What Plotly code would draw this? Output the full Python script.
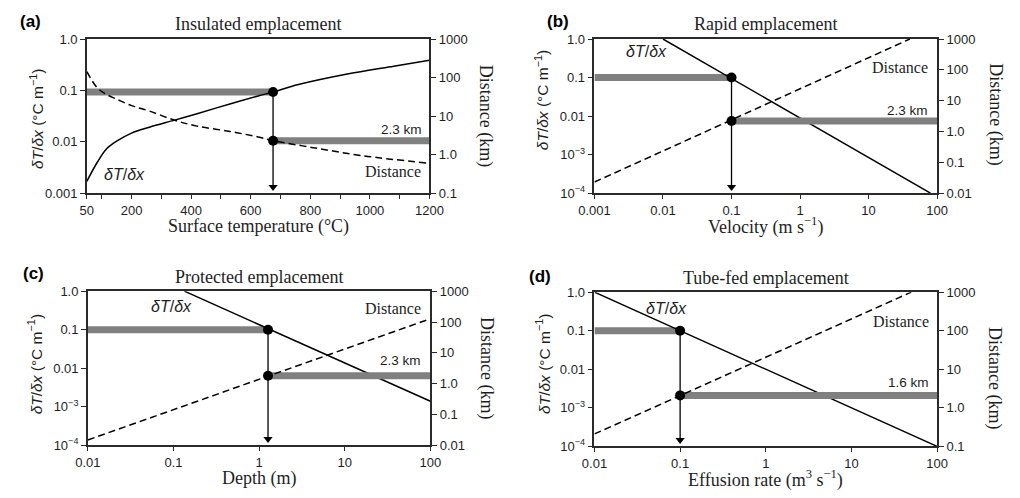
import plotly.graph_objects as go

W, H = 1020, 498

# ---------------- data ----------------
# (a) Insulated emplacement
a_temp = [50, 85, 115, 150, 200, 260, 345, 420, 530, 625, 675, 760, 920, 1080, 1200]
a_grad = [0.0017, 0.0040, 0.0072, 0.0103, 0.0148, 0.0192, 0.0264, 0.0352, 0.0545, 0.078,
          0.093, 0.13, 0.206, 0.296, 0.385]
a_dist_temp = [50, 85, 115, 150, 200, 260, 345, 420, 530, 625, 675, 810, 975, 1190]
a_dist = [142, 54, 36.8, 27.5, 18.7, 13.5, 7.8, 5.5, 4.0, 2.88, 2.32, 1.52, 0.94, 0.61]
a_sel = [675, 0.093, 2.3]          # x, gradient, distance

# (b) Rapid emplacement
b_vel = [0.01, 80]
b_grad = [1.0, 1e-4]
b_dist_vel = [0.001, 40]
b_dist = [0.023, 1000]
b_sel = [0.1, 0.1, 2.2]

# (c) Protected emplacement
c_depth = [0.134, 100]
c_grad = [1.0, 0.0014]
c_dist_depth = [0.01, 100]
c_dist = [0.015, 128]
c_sel = [1.27, 0.1, 1.8]

# (d) Tube-fed emplacement
d_eff = [0.01, 100]
d_grad = [1.0, 1e-4]
d_dist_eff = [0.01, 50]
d_dist = [0.21, 1000]
d_sel = [0.1, 0.1, 2.1]

titles = ["Insulated emplacement", "Rapid emplacement", "Protected emplacement", "Tube-fed emplacement"]
letters = ["(a)", "(b)", "(c)", "(d)"]
xtitles = ["Surface temperature (°C)", "Velocity (m s<sup>−1</sup>)", "Depth (m)",
           "Effusion rate (m<sup>3</sup> s<sup>−1</sup>)"]
dist_labels = ["2.3 km", "2.3 km", "2.3 km", "1.6 km"]

lt_vals_a = [1.0, 0.1, 0.01, 0.001]
lt_text_a = ["1.0", "0.1", "0.01", "0.001"]
lt_vals = [1.0, 0.1, 0.01, 1e-3, 1e-4]
lt_text = ["1.0", "0.1", "0.01", "10<sup>−3</sup>", "10<sup>−4</sup>"]
rt_vals5 = [1000, 100, 10, 1, 0.1]
rt_text5 = ["1000", "100", "10", "1.0", "0.1"]
rt_vals6 = [1000, 100, 10, 1, 0.1, 0.01]
rt_text6 = ["1000", "100", "10", "1.0", "0.1", "0.01"]
xa_vals = [50, 100, 200, 300, 400, 500, 600, 700, 800, 900, 1000, 1100, 1200]
xa_text = ["50", "", "200", "", "400", "", "600", "", "800", "", "1000", "", "1200"]
xb_vals = [0.001, 0.01, 0.1, 1, 10, 100]
xb_text = ["0.001", "0.01", "0.1", "1", "10", "100"]
xc_vals = [0.01, 0.1, 1, 10, 100]
xc_text = ["0.01", "0.1", "1", "10", "100"]

# ---------------- layout geometry (pixels) ----------------
boxes = [(73, 426, 33, 192), (596, 949, 33, 192), (74, 427, 293, 452), (596, 949, 294, 453)]
xtype = ["linear", "log", "log", "log"]
xrange_ = [[50, 1200], [-3, 2], [-2, 2], [-2, 2]]
lrange = [[-3, 0], [-4, 0], [-4, 0], [-4, 0]]
rrange = [[-1, 3], [-2, 3], [-2, 3], [-1, 3]]

panels = [
    (a_temp, a_grad, a_dist_temp, a_dist, a_sel),
    (b_vel, b_grad, b_dist_vel, b_dist, b_sel),
    (c_depth, c_grad, c_dist_depth, c_dist, c_sel),
    (d_eff, d_grad, d_dist_eff, d_dist, d_sel),
]
xticks = [(xa_vals, xa_text), (xb_vals, xb_text), (xc_vals, xc_text), (xc_vals, xc_text)]
lticks = [(lt_vals_a, lt_text_a), (lt_vals, lt_text), (lt_vals, lt_text), (lt_vals, lt_text)]
rticks = [(rt_vals5, rt_text5), (rt_vals6, rt_text6), (rt_vals6, rt_text6), (rt_vals5, rt_text5)]

SANS = "Liberation Sans"
SERIF = "Liberation Serif"
AX = "#2a2a2a"
BAR = "#808080"
TXT = "#1e1e1e"


def P(x, y):
    return x / W, 1 - y / H


fig = go.Figure()
layout = dict(width=W, height=H, margin=dict(l=0, r=0, t=0, b=0),
              paper_bgcolor="white", plot_bgcolor="white", showlegend=False)
annotations = []


def axname(kind, n):
    return kind if n == 1 else f"{kind}{n}"


for i, (xs, gs, dxs, ds, sel) in enumerate(panels):
    xl, xr, yt, yb = boxes[i]
    xn = i + 1
    yl = 2 * i + 1
    yr = 2 * i + 2
    xid, ylid, yrid = axname("x", xn), axname("y", yl), axname("y", yr)

    tick_font = dict(family=SANS, size=13, color=TXT)
    layout[axname("xaxis", xn)] = dict(
        type=xtype[i], range=xrange_[i], domain=[xl / W, xr / W], anchor=ylid,
        showline=True, linecolor=AX, linewidth=1.5, mirror=True, showgrid=False,
        zeroline=False, ticks="outside", ticklen=4, tickwidth=1.3, tickcolor=AX,
        tickvals=xticks[i][0], ticktext=xticks[i][1], tickfont=tick_font)
    # companion axis giving the inner half of the crossing x ticks
    layout[axname("xaxis", xn + 4)] = dict(
        type=xtype[i], range=xrange_[i], overlaying=xid, anchor=ylid, side="bottom",
        showline=False, showgrid=False, zeroline=False, ticks="inside", ticklen=3,
        tickwidth=1.3, tickcolor=AX, tickvals=xticks[i][0], showticklabels=False)
    layout[axname("yaxis", yl)] = dict(
        type="log", range=lrange[i], domain=[1 - yb / H, 1 - yt / H], anchor=xid,
        showline=True, linecolor=AX, linewidth=1.5, showgrid=False, zeroline=False,
        ticks="outside", ticklen=5, tickwidth=1.3, tickcolor=AX,
        tickvals=lticks[i][0], ticktext=lticks[i][1], tickfont=tick_font)
    layout[axname("yaxis", yr)] = dict(
        type="log", range=rrange[i], overlaying=ylid, anchor=xid, side="right",
        showline=True, linecolor=AX, linewidth=1.5, showgrid=False, zeroline=False,
        ticks="outside", ticklen=5, tickwidth=1.3, tickcolor=AX,
        tickvals=rticks[i][0], ticktext=rticks[i][1], tickfont=tick_font)

    # axis extents in data units
    if xtype[i] == "log":
        xmin, xmax = 10 ** xrange_[i][0], 10 ** xrange_[i][1]
    else:
        xmin, xmax = xrange_[i]
    sx, sg, sd = sel

    # grey bars
    fig.add_trace(go.Scatter(x=[xmin, sx], y=[sg, sg], mode="lines",
                             line=dict(color=BAR, width=7), xaxis=xid, yaxis=ylid))
    fig.add_trace(go.Scatter(x=[sx, xmax], y=[sd, sd], mode="lines",
                             line=dict(color=BAR, width=7), xaxis=xid, yaxis=yrid))
    # curves
    fig.add_trace(go.Scatter(x=xs, y=gs, mode="lines",
                             line=dict(color="black", width=1.5, shape="spline", smoothing=1.0),
                             xaxis=xid, yaxis=ylid))
    fig.add_trace(go.Scatter(x=dxs, y=ds, mode="lines",
                             line=dict(color="black", width=1.5, dash="7px,4px", shape="spline",
                                       smoothing=1.0),
                             xaxis=xid, yaxis=yrid))
    # arrow (vertical) down to the x axis
    ppd = (yb - yt) / (lrange[i][1] - lrange[i][0])   # pixels per decade
    tip = 10 ** (lrange[i][0] + 6.5 / ppd)
    fig.add_trace(go.Scatter(x=[sx, sx], y=[sg, tip], mode="lines",
                             line=dict(color="black", width=1.3), xaxis=xid, yaxis=ylid))
    fig.add_trace(go.Scatter(x=[sx], y=[tip], mode="markers",
                             marker=dict(symbol="triangle-down", size=8, color="black"),
                             xaxis=xid, yaxis=ylid))
    # dots
    fig.add_trace(go.Scatter(x=[sx], y=[sg], mode="markers",
                             marker=dict(size=10, color="black"), xaxis=xid, yaxis=ylid))
    fig.add_trace(go.Scatter(x=[sx], y=[sd], mode="markers",
                             marker=dict(size=10, color="black"), xaxis=xid, yaxis=yrid))

    # titles / labels
    cx = (xl + xr) / 2
    tx, ty = P(cx, yt - 15)
    annotations.append(dict(x=tx, y=ty, xref="paper", yref="paper", text=titles[i],
                            showarrow=False, font=dict(family=SERIF, size=18, color=TXT),
                            xanchor="center", yanchor="middle"))
    tx, ty = P(cx, yb + 34)
    annotations.append(dict(x=tx, y=ty, xref="paper", yref="paper", text=xtitles[i],
                            showarrow=False, font=dict(family=SERIF, size=18, color=TXT),
                            xanchor="center", yanchor="middle"))

lp = [(15, 15), (558, 15), (18, 275), (540, 278)]
for i in range(4):
    x, y = P(*lp[i])
    annotations.append(dict(x=x, y=y, xref="paper", yref="paper", text="<b>" + letters[i] + "</b>",
                            showarrow=False, font=dict(family=SANS, size=17, color="black"),
                            xanchor="center", yanchor="middle"))

ylt = [(21, 115), (542, 96), (20, 368), (543, 368)]
for (x0, y0) in ylt:
    x, y = P(x0, y0)
    annotations.append(dict(x=x, y=y, xref="paper", yref="paper",
                            text="<i>δT</i>/<i>δx</i> (°C m<sup>−1</sup>)", textangle=-90,
                            showarrow=False, font=dict(family=SANS, size=15.5, color=TXT),
                            xanchor="center", yanchor="middle"))
yrt = [(484, 112), (1009, 111), (484, 372), (1008, 383)]
for (x0, y0) in yrt:
    x, y = P(x0, y0)
    annotations.append(dict(x=x, y=y, xref="paper", yref="paper", text="Distance (km)",
                            textangle=90, showarrow=False,
                            font=dict(family=SERIF, size=18, color=TXT),
                            xanchor="center", yanchor="middle"))

# in-plot labels
gl = [(112, 173), (650, 46), (160, 309), (670, 311)]
dl = [(419, 170), (942, 62), (419, 311), (943, 324)]
kl = [(420, 126), (942, 107), (419, 364), (943, 387)]
for i in range(4):
    x, y = P(*gl[i])
    annotations.append(dict(x=x, y=y, xref="paper", yref="paper", text="<i>δT</i>/<i>δx</i>",
                            showarrow=False, font=dict(family=SANS, size=16, color=TXT),
                            xanchor="center", yanchor="middle"))
    x, y = P(*dl[i])
    annotations.append(dict(x=x, y=y, xref="paper", yref="paper", text="Distance",
                            showarrow=False, font=dict(family=SERIF, size=16, color=TXT),
                            xanchor="right", yanchor="middle"))
    x, y = P(*kl[i])
    annotations.append(dict(x=x, y=y, xref="paper", yref="paper", text=dist_labels[i],
                            showarrow=False, font=dict(family=SANS, size=13.5, color=TXT),
                            xanchor="right", yanchor="middle"))

layout["annotations"] = annotations
fig.update_layout(**layout)
fig.write_html("out.html")
